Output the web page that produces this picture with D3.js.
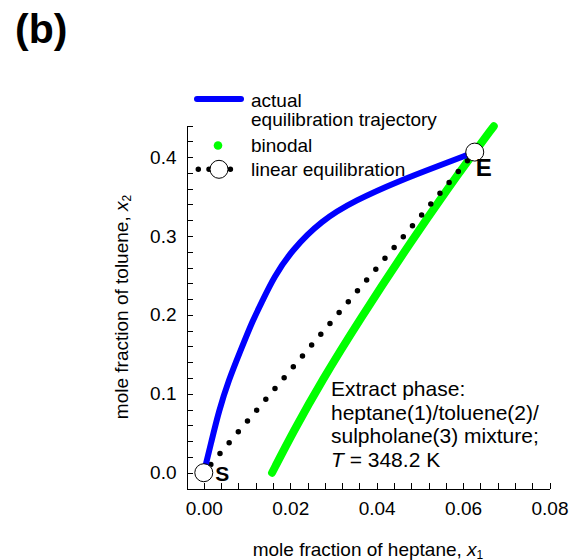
<!DOCTYPE html>
<html>
<head>
<meta charset="utf-8">
<script src="https://cdn.jsdelivr.net/npm/d3@7"></script>
<style>
  html, body { margin: 0; padding: 0; background: #fff; }
  svg { display: block; font-family: "Liberation Sans", Arial, Helvetica, sans-serif; }
  .axis path, .axis line { stroke: #000; stroke-width: 1; shape-rendering: crispEdges; }
  .axis text { font-size: 19px; fill: #000; font-family: "Liberation Sans", Arial, sans-serif; }
</style>
</head>
<body>
<svg id="chart" width="569" height="560"></svg>
<script>
// Binodal curve (extract phase), mole fractions x1 (heptane) and x2 (toluene)
const binodalX1 = [0.0158, 0.0208, 0.0273, 0.0359, 0.0481, 0.0567, 0.0612, 0.0671];
const binodalX2 = [0.0000, 0.0530, 0.1165, 0.1927, 0.2942, 0.3619, 0.3958, 0.4390];

// Actual equilibration trajectory from S to E
const trajectoryX1 = [0.0000, 0.0018, 0.0035, 0.0057, 0.0085, 0.0113, 0.0136, 0.0162, 0.0203, 0.0272, 0.0350, 0.0455, 0.0546, 0.0607, 0.0627];
const trajectoryX2 = [0.0000, 0.0403, 0.0783, 0.1164, 0.1546, 0.1927, 0.2181, 0.2476, 0.2816, 0.3197, 0.3451, 0.3705, 0.3895, 0.4022, 0.4063];

// Linear equilibration path (straight line S -> E)
const linearX1 = [0.0000, 0.0627];
const linearX2 = [0.0000, 0.4063];

// Start and end states
const stateNames = ["S", "E"];
const stateX1 = [0.0000, 0.0627];
const stateX2 = [0.0000, 0.4063];

// Axis ticks
const xMajorTicks = [0.00, 0.02, 0.04, 0.06, 0.08];
const yMajorTicks = [0.0, 0.1, 0.2, 0.3, 0.4];
const xDomain = [-0.004, 0.08];
const yDomain = [-0.02, 0.44];

// Text
const legendLabels = [["actual", "equilibration trajectory"], ["binodal"], ["linear equilibration"]];
const noteLines = ["Extract phase:", "heptane(1)/toluene(2)/", "sulpholane(3) mixture;"];
const noteTemperature = "348.2 K";

const svg = d3.select("#chart");

const x = d3.scaleLinear().domain(xDomain).range([186.5, 549.5]);
const y = d3.scaleLinear().domain(yDomain).range([488.5, 125.5]);

const xMinor = d3.range(-0.004, 0.0801, 0.004);
const yMinor = d3.range(-0.02, 0.4401, 0.02);

// Minor ticks (inward)
svg.append("g").attr("class", "axis").attr("transform", `translate(0,${y.range()[0]})`)
  .call(d3.axisBottom(x).tickValues(xMinor).tickSizeInner(-6).tickSizeOuter(0).tickFormat(""));
svg.append("g").attr("class", "axis").attr("transform", `translate(${x.range()[0]},0)`)
  .call(d3.axisLeft(y).tickValues(yMinor).tickSizeInner(-6).tickSizeOuter(0).tickFormat(""));

// Major ticks with labels
svg.append("g").attr("class", "axis").attr("transform", `translate(0,${y.range()[0]})`)
  .call(d3.axisBottom(x).tickValues(xMajorTicks).tickSizeInner(-6).tickSizeOuter(0)
    .tickPadding(13).tickFormat(d3.format(".2f")));
svg.append("g").attr("class", "axis").attr("transform", `translate(${x.range()[0]},0)`)
  .call(d3.axisLeft(y).tickValues(yMajorTicks).tickSizeInner(-6).tickSizeOuter(0)
    .tickPadding(10).tickFormat(d3.format(".1f")));

// Axis titles
const xTitle = svg.append("text")
  .attr("x", (x.range()[0] + x.range()[1]) / 2).attr("y", 555.5)
  .attr("text-anchor", "middle").attr("font-size", 19);
xTitle.append("tspan").text("mole fraction of heptane, ");
xTitle.append("tspan").attr("font-style", "italic").text("x");
xTitle.append("tspan").attr("font-size", 12).attr("dy", 3).text("1");

const yTitle = svg.append("text")
  .attr("transform", `translate(127.5,${(y.range()[0] + y.range()[1]) / 2}) rotate(-90)`)
  .attr("text-anchor", "middle").attr("font-size", 19);
yTitle.append("tspan").text("mole fraction of toluene, ");
yTitle.append("tspan").attr("font-style", "italic").text("x");
yTitle.append("tspan").attr("font-size", 12).attr("dy", 3.5).text("2");

// Panel label
svg.append("text").attr("x", 15).attr("y", 43)
  .attr("font-size", 41).attr("font-weight", "bold").text("(b)");

const smoothLine = d3.line().x(d => x(d[0])).y(d => y(d[1])).curve(d3.curveBasis);
const straightLine = d3.line().x(d => x(d[0])).y(d => y(d[1]));

// Binodal
svg.append("path")
  .attr("d", smoothLine(d3.zip(binodalX1, binodalX2)))
  .attr("fill", "none").attr("stroke", "#00ff00").attr("stroke-width", 8)
  .attr("stroke-linecap", "round").attr("stroke-linejoin", "round");

// Linear equilibration (dotted)
svg.append("path")
  .attr("d", straightLine(d3.zip(linearX1, linearX2)))
  .attr("fill", "none").attr("stroke", "#000").attr("stroke-width", 5.5)
  .attr("stroke-linecap", "round").attr("stroke-dasharray", "0 14.2").attr("stroke-dashoffset", 3.3);

// Actual trajectory
svg.append("path")
  .attr("d", smoothLine(d3.zip(trajectoryX1, trajectoryX2)))
  .attr("fill", "none").attr("stroke", "#0000ff").attr("stroke-width", 6)
  .attr("stroke-linecap", "round").attr("stroke-linejoin", "round");

// S and E markers
const states = d3.zip(stateNames, stateX1, stateX2);
svg.selectAll("circle.state").data(states).join("circle")
  .attr("class", "state")
  .attr("cx", d => x(d[1])).attr("cy", d => y(d[2])).attr("r", 9)
  .attr("fill", "#fff").attr("stroke", "#000").attr("stroke-width", 1);

svg.append("text").attr("x", x(stateX1[0]) + 11.5).attr("y", y(stateX2[0]) + 8)
  .attr("font-size", 21).attr("font-weight", "bold").text(stateNames[0]);
svg.append("text").attr("x", x(stateX1[1]) + 1).attr("y", y(stateX2[1]) + 23.5)
  .attr("font-size", 24).attr("font-weight", "bold").text(stateNames[1]);

// Annotation
const note = svg.append("text").attr("font-size", 21);
noteLines.forEach((t, i) => {
  note.append("tspan").attr("x", 331).attr("y", 396 + i * 23.5).text(t);
});
note.append("tspan").attr("x", 331).attr("y", 396 + 3 * 23.5)
  .attr("font-style", "italic").text("T");
note.append("tspan").text(" = " + noteTemperature);

// Legend
const lg = svg.append("g");
lg.append("line").attr("x1", 197).attr("x2", 241).attr("y1", 99).attr("y2", 99)
  .attr("stroke", "#0000ff").attr("stroke-width", 6).attr("stroke-linecap", "round");
lg.append("text").attr("x", 251).attr("y", 106.5).attr("font-size", 19).text(legendLabels[0][0]);
lg.append("text").attr("x", 251).attr("y", 126).attr("font-size", 19).text(legendLabels[0][1]);

lg.append("circle").attr("cx", 218).attr("cy", 145.5).attr("r", 4.3).attr("fill", "#00ff00");
lg.append("text").attr("x", 251).attr("y", 152).attr("font-size", 19).text(legendLabels[1][0]);

lg.append("line").attr("x1", 198.3).attr("x2", 241).attr("y1", 169.3).attr("y2", 169.3)
  .attr("stroke", "#000").attr("stroke-width", 5.5).attr("stroke-linecap", "round")
  .attr("stroke-dasharray", "0 10.7");
lg.append("circle").attr("cx", 219).attr("cy", 169.3).attr("r", 9)
  .attr("fill", "#fff").attr("stroke", "#000").attr("stroke-width", 1);
lg.append("text").attr("x", 251).attr("y", 176).attr("font-size", 19).text(legendLabels[2][0]);
</script>
</body>
</html>
